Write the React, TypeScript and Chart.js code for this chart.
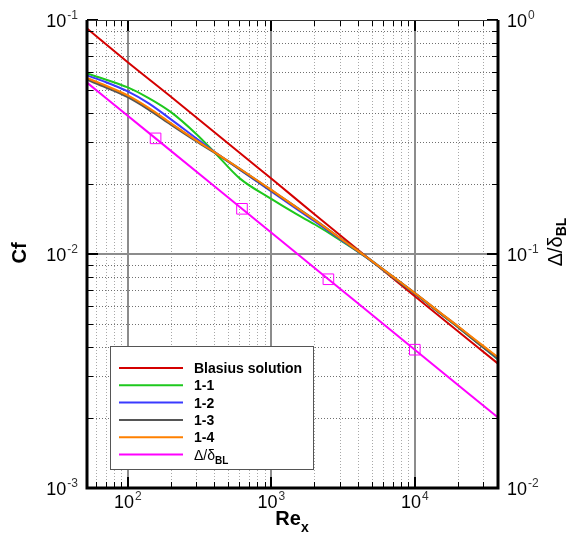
import { useEffect, useRef } from 'react';
import { Chart, registerables } from 'chart.js';
Chart.register(...registerables);

// ---------- data ----------
const reSamples = [52, 70, 100, 140, 200, 300, 400, 600, 1000, 1500, 2000, 3000, 4500, 7000, 10000, 15000, 20000, 30000, 38000];
const cf11 = [0.0591, 0.0557, 0.0515, 0.0464, 0.0404, 0.0326, 0.0273, 0.0211, 0.0172, 0.0148, 0.0134, 0.0115, 0.00976, 0.00797, 0.00678, 0.00558, 0.00486, 0.00399, 0.00354];
const cf12 = [0.0579, 0.0543, 0.0495, 0.0440, 0.0376, 0.0312, 0.0274, 0.0230, 0.0185, 0.0156, 0.0138, 0.0116, 0.00976, 0.00799, 0.00679, 0.00559, 0.00488, 0.00400, 0.00356];
const cf13 = [0.0557, 0.0517, 0.0469, 0.0415, 0.0358, 0.0304, 0.0272, 0.0231, 0.0187, 0.0158, 0.0140, 0.0117, 0.00980, 0.00801, 0.00680, 0.00560, 0.00489, 0.00400, 0.00359];
const cf14 = [0.0565, 0.0525, 0.0476, 0.0421, 0.0362, 0.0306, 0.0273, 0.0232, 0.0188, 0.0158, 0.0140, 0.0117, 0.00981, 0.00802, 0.00681, 0.00562, 0.00491, 0.00405, 0.00362];

const blasiusRe = [52, 100, 200, 1000, 2000, 10000, 38000];
const blasiusCf = [0.092, 0.066, 0.047, 0.021, 0.0148, 0.0066, 0.0034];

const deltaRe = [52, 156.25, 625, 2500, 10000, 38000];
const deltaRatio = [0.54, 0.312, 0.156, 0.078, 0.039, 0.02];
const markerRe = [156.25, 625, 2500, 10000];
const markerRatio = [0.312, 0.156, 0.078, 0.039];

const xRange = [52, 38000];
const yLeftRange = [0.001, 0.1];
const yRightRange = [0.01, 1];

const xMajor = [100, 1000, 10000];
const xMinor = [60, 70, 80, 90, 200, 300, 400, 500, 600, 700, 800, 900, 2000, 3000, 4000, 5000, 6000, 7000, 8000, 9000, 20000, 30000];
const yMajor = [0.001, 0.01, 0.1];
const yMinor = [0.002, 0.003, 0.004, 0.005, 0.006, 0.007, 0.008, 0.009, 0.02, 0.03, 0.04, 0.05, 0.06, 0.07, 0.08, 0.09];

const xLabelValues = [100, 1000, 10000];
const xLabelExps = ['2', '3', '4'];
const yLeftLabelValues = [0.1, 0.01, 0.001];
const yLeftLabelExps = ['-1', '-2', '-3'];
const yRightLabelValues = [1, 0.1, 0.01];
const yRightLabelExps = ['0', '-1', '-2'];

const seriesNames = ['Blasius solution', '1-1', '1-2', '1-3', '1-4'];
const seriesColors = ['#d40000', '#1ec81e', '#3a3aff', '#555555', '#ff8000', '#ff00ff'];

const FONT = '"Liberation Sans", Arial, Helvetica, sans-serif';

function pts(xs: number[], ys: number[]) {
  return xs.map((x, i) => ({ x, y: ys[i] }));
}

function drawPower(ctx: CanvasRenderingContext2D, exp: string, x: number, base: number, align: string) {
  ctx.font = `18px ${FONT}`;
  const w10 = ctx.measureText('10').width;
  ctx.font = `12px ${FONT}`;
  const we = ctx.measureText(exp).width;
  const total = w10 + we + 1;
  const left = align === 'left' ? x : align === 'right' ? x - total : x - total / 2;
  ctx.textAlign = 'left';
  ctx.textBaseline = 'alphabetic';
  ctx.fillStyle = '#000';
  ctx.font = `18px ${FONT}`;
  ctx.fillText('10', left, base);
  ctx.fillStyle = '#333';
  ctx.font = `12px ${FONT}`;
  ctx.fillText(exp, left + w10 + 1, base - 8);
}

const customPlugin = {
  id: 'customDecor',
  beforeDatasetsDraw(chart: any) {
    const { ctx, chartArea: a, scales } = chart;
    const xs = scales.x, ys = scales.y;
    ctx.save();
    ctx.lineWidth = 1;
    ctx.setLineDash([1, 2]);
    ctx.strokeStyle = '#a8a8a8';
    for (const v of xMinor) {
      const px = Math.round(xs.getPixelForValue(v)) + 0.5;
      ctx.beginPath(); ctx.moveTo(px, a.top); ctx.lineTo(px, a.bottom); ctx.stroke();
    }
    ctx.strokeStyle = '#707070';
    for (const v of yMinor) {
      const py = Math.round(ys.getPixelForValue(v)) + 0.5;
      ctx.beginPath(); ctx.moveTo(a.left, py); ctx.lineTo(a.right, py); ctx.stroke();
    }
    ctx.setLineDash([]);
    ctx.strokeStyle = '#8c8c8c';
    ctx.lineWidth = 2;
    for (const v of xMajor) {
      const px = Math.round(xs.getPixelForValue(v));
      ctx.beginPath(); ctx.moveTo(px, a.top); ctx.lineTo(px, a.bottom); ctx.stroke();
    }
    for (const v of yMajor) {
      const py = Math.round(ys.getPixelForValue(v));
      if (py <= a.top + 1 || py >= a.bottom - 1) continue;
      ctx.beginPath(); ctx.moveTo(a.left, py); ctx.lineTo(a.right, py); ctx.stroke();
    }
    ctx.restore();
  },
  afterDatasetsDraw(chart: any) {
    const { ctx, chartArea: a, scales } = chart;
    const xs = scales.x, ys = scales.y, y2 = scales.y2;
    ctx.save();
    // inward ticks
    ctx.strokeStyle = '#000';
    const tick = (x1: number, y1: number, x2: number, y2_: number, w: number) => {
      ctx.lineWidth = w;
      ctx.beginPath(); ctx.moveTo(x1, y1); ctx.lineTo(x2, y2_); ctx.stroke();
    };
    for (const v of yMinor) {
      const py = Math.round(ys.getPixelForValue(v)) + 0.5;
      tick(a.left, py, a.left + 6, py, 1);
      tick(a.right, py, a.right - 6, py, 1);
    }
    for (const v of yMajor) {
      const py = Math.round(ys.getPixelForValue(v));
      tick(a.left, py, a.left + 11, py, 2);
      tick(a.right, py, a.right - 11, py, 2);
    }
    for (const v of xMinor) {
      const px = Math.round(xs.getPixelForValue(v)) + 0.5;
      tick(px, a.bottom, px, a.bottom - 6, 1);
      tick(px, a.top, px, a.top + 6, 1);
    }
    for (const v of xMajor) {
      const px = Math.round(xs.getPixelForValue(v));
      tick(px, a.bottom, px, a.bottom - 11, 2);
      tick(px, a.top, px, a.top + 11, 2);
    }
    // frame
    ctx.strokeStyle = '#333';
    ctx.lineWidth = 1;
    ctx.beginPath(); ctx.moveTo(a.left, a.top + 0.5); ctx.lineTo(a.right, a.top + 0.5); ctx.stroke();
    ctx.strokeStyle = '#000';
    ctx.lineWidth = 3;
    ctx.beginPath();
    ctx.moveTo(a.left, a.top);
    ctx.lineTo(a.left, a.bottom);
    ctx.lineTo(a.right, a.bottom);
    ctx.lineTo(a.right, a.top);
    ctx.stroke();

    // legend
    const lx = 110.5, ly = 346.5, lw = 203, lh = 123;
    ctx.fillStyle = '#fff';
    ctx.fillRect(lx, ly, lw, lh);
    ctx.strokeStyle = '#555';
    ctx.lineWidth = 1;
    ctx.strokeRect(lx, ly, lw, lh);
    const rowY = [368, 385.3, 402.6, 419.9, 437.2, 454.5];
    for (let i = 0; i < 6; i++) {
      ctx.strokeStyle = seriesColors[i];
      ctx.lineWidth = 2;
      ctx.beginPath(); ctx.moveTo(119, rowY[i]); ctx.lineTo(183, rowY[i]); ctx.stroke();
      ctx.fillStyle = '#000';
      ctx.textAlign = 'left';
      ctx.textBaseline = 'alphabetic';
      if (i < 5) {
        ctx.font = `bold 14px ${FONT}`;
        ctx.fillText(seriesNames[i], 194, rowY[i] + 5);
      } else {
        ctx.font = `14px ${FONT}`;
        ctx.fillText('Δ/δ', 194, rowY[i] + 5);
        const w = ctx.measureText('Δ/δ').width;
        ctx.font = `bold 10px ${FONT}`;
        ctx.fillText('BL', 194 + w, rowY[i] + 9);
      }
    }

    // tick labels
    for (let i = 0; i < xLabelValues.length; i++) {
      drawPower(ctx, xLabelExps[i], xs.getPixelForValue(xLabelValues[i]), 508, 'center');
    }
    for (let i = 0; i < yLeftLabelValues.length; i++) {
      drawPower(ctx, yLeftLabelExps[i], 78, ys.getPixelForValue(yLeftLabelValues[i]) + 6.5, 'right');
    }
    for (let i = 0; i < yRightLabelValues.length; i++) {
      drawPower(ctx, yRightLabelExps[i], 507, y2.getPixelForValue(yRightLabelValues[i]) + 6.5, 'left');
    }

    // axis titles
    ctx.fillStyle = '#000';
    ctx.save();
    ctx.translate(26, 253);
    ctx.rotate(-Math.PI / 2);
    ctx.font = `bold 20px ${FONT}`;
    ctx.textAlign = 'center';
    ctx.textBaseline = 'alphabetic';
    ctx.fillText('Cf', 0, 0);
    ctx.restore();

    ctx.font = `bold 20px ${FONT}`;
    const wRe = ctx.measureText('Re').width;
    ctx.font = `bold 14px ${FONT}`;
    const wx = ctx.measureText('x').width;
    const startRe = 292 - (wRe + wx) / 2;
    ctx.textAlign = 'left';
    ctx.font = `bold 20px ${FONT}`;
    ctx.fillText('Re', startRe, 525);
    ctx.font = `bold 14px ${FONT}`;
    ctx.fillText('x', startRe + wRe, 532);

    ctx.save();
    ctx.translate(562, 242);
    ctx.rotate(-Math.PI / 2);
    ctx.textAlign = 'left';
    ctx.font = `20px ${FONT}`;
    const wd = ctx.measureText('Δ/δ').width;
    ctx.font = `bold 14px ${FONT}`;
    const wbl = ctx.measureText('BL').width;
    const s = -(wd + wbl) / 2;
    ctx.font = `20px ${FONT}`;
    ctx.fillText('Δ/δ', s, 0);
    ctx.font = `bold 14px ${FONT}`;
    ctx.fillText('BL', s + wd, 4);
    ctx.restore();

    ctx.restore();
  },
};

export default function App() {
  const ref = useRef<HTMLCanvasElement | null>(null);
  useEffect(() => {
    document.body.style.margin = '0';
    document.body.style.overflow = 'hidden';
    const canvas = ref.current;
    if (!canvas) return;
    const common = { pointRadius: 0, borderWidth: 2, showLine: true, fill: false, cubicInterpolationMode: 'monotone' as const };
    const chart = new Chart(canvas, {
      type: 'scatter',
      data: {
        datasets: [
          { ...common, label: seriesNames[0], data: pts(blasiusRe, blasiusCf), borderColor: seriesColors[0], order: 6, yAxisID: 'y' },
          { ...common, label: seriesNames[1], data: pts(reSamples, cf11), borderColor: seriesColors[1], order: 5, yAxisID: 'y' },
          { ...common, label: seriesNames[2], data: pts(reSamples, cf12), borderColor: seriesColors[2], order: 4, yAxisID: 'y' },
          { ...common, label: seriesNames[3], data: pts(reSamples, cf13), borderColor: seriesColors[3], borderWidth: 2.5, order: 3, yAxisID: 'y' },
          { ...common, label: seriesNames[4], data: pts(reSamples, cf14), borderColor: seriesColors[4], order: 2, yAxisID: 'y' },
          { ...common, label: 'Δ/δBL', data: pts(deltaRe, deltaRatio), borderColor: seriesColors[5], order: 1, yAxisID: 'y2' },
          {
            label: 'markers', data: pts(markerRe, markerRatio), showLine: false, pointStyle: 'rect', pointRadius: 7.5,
            pointBorderWidth: 1, pointBorderColor: seriesColors[5], pointBackgroundColor: 'rgba(0,0,0,0)', order: 0, yAxisID: 'y2',
          },
        ],
      },
      options: {
        animation: false,
        responsive: false,
        layout: { padding: { left: 87, top: 20, right: 72, bottom: 47 } },
        plugins: { legend: { display: false }, tooltip: { enabled: false } },
        scales: {
          x: { type: 'logarithmic', min: xRange[0], max: xRange[1], display: false },
          y: { type: 'logarithmic', min: yLeftRange[0], max: yLeftRange[1], display: false },
          y2: { type: 'logarithmic', min: yRightRange[0], max: yRightRange[1], display: false, position: 'right' },
        },
      },
      plugins: [customPlugin],
    });
    return () => chart.destroy();
  }, []);
  return <canvas ref={ref} width={570} height={535} style={{ display: 'block' }} />;
}
